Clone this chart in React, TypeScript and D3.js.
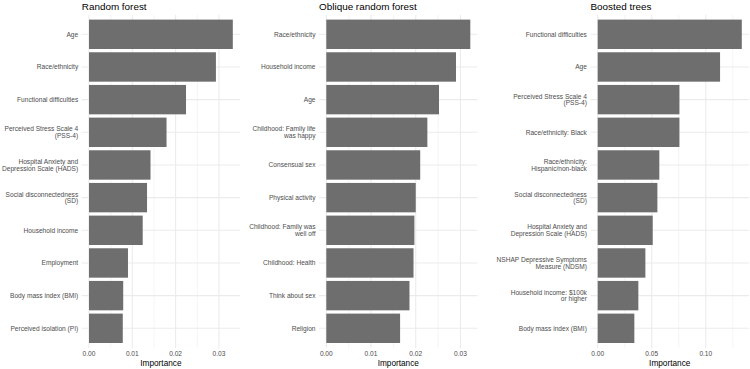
import { useEffect, useRef } from 'react';
import * as d3 from 'd3';

const rfLabels = [
  'Age',
  'Race/ethnicity',
  'Functional difficulties',
  'Perceived Stress Scale 4\n(PSS-4)',
  'Hospital Anxiety and\nDepression Scale (HADS)',
  'Social disconnectedness\n(SD)',
  'Household income',
  'Employment',
  'Body mass index (BMI)',
  'Perceived isolation (PI)',
];
const rfValues = [0.0332, 0.0293, 0.0224, 0.0179, 0.0142, 0.0134, 0.0124, 0.009, 0.0079, 0.0078];

const orfLabels = [
  'Race/ethnicity',
  'Household income',
  'Age',
  'Childhood: Family life\nwas happy',
  'Consensual sex',
  'Physical activity',
  'Childhood: Family was\nwell off',
  'Childhood: Health',
  'Think about sex',
  'Religion',
];
const orfValues = [0.0322, 0.029, 0.0252, 0.0226, 0.021, 0.02, 0.0197, 0.0195, 0.0186, 0.0165];

const btLabels = [
  'Functional difficulties',
  'Age',
  'Perceived Stress Scale 4\n(PSS-4)',
  'Race/ethnicity: Black',
  'Race/ethnicity:\nHispanic/non-black',
  'Social disconnectedness\n(SD)',
  'Hospital Anxiety and\nDepression Scale (HADS)',
  'NSHAP Depressive Symptoms\nMeasure (NDSM)',
  'Household income: $100k\nor higher',
  'Body mass index (BMI)',
];
const btValues = [0.1333, 0.1132, 0.0756, 0.0756, 0.057, 0.0552, 0.0509, 0.0441, 0.0376, 0.0339];

const rfTicks = [0, 0.01, 0.02, 0.03];
const orfTicks = [0, 0.01, 0.02, 0.03];
const btTicks = [0, 0.05, 0.1];

const titles = ['Random forest', 'Oblique random forest', 'Boosted trees'];

const WIDTH = 750;
const HEIGHT = 369;
const FONT = '"Liberation Sans", Arial, Helvetica, sans-serif';

export default function App() {
  const svgRef = useRef<SVGSVGElement>(null);

  useEffect(() => {
    if (!svgRef.current) return;
    const svg = d3.select(svgRef.current);
    svg.selectAll('*').remove();

    const panelTop = 14.7;
    const panelBottom = 347.9;

    const panels = [
      { title: titles[0], labels: rfLabels, values: rfValues, ticks: rfTicks, left: 81.8, right: 240 },
      { title: titles[1], labels: orfLabels, values: orfValues, ticks: orfTicks, left: 319.1, right: 477.5 },
      { title: titles[2], labels: btLabels, values: btValues, ticks: btTicks, left: 590.5, right: 749 },
    ];

    panels.forEach(p => {
      const g = svg.append('g');
      const maxV = d3.max(p.values) || 0;
      const pad = maxV * 0.05;
      const x = d3.scaleLinear().domain([-pad, maxV + pad]).range([p.left, p.right]);

      // discrete axis with ggplot's 0.6 expansion
      const n = p.labels.length;
      const y = d3.scaleLinear().domain([-0.6, n - 1 + 0.6]).range([panelTop, panelBottom]);
      const band = (panelBottom - panelTop) / (n + 0.2);
      const barH = band * 0.9;

      // minor vertical grid
      const step = p.ticks[1] - p.ticks[0];
      const minors = d3.range(p.ticks[0] - step / 2, maxV + pad + step, step)
        .filter(v => v > -pad && v < maxV + pad);
      g.selectAll('.minor')
        .data(minors)
        .enter()
        .append('line')
        .attr('x1', d => x(d))
        .attr('x2', d => x(d))
        .attr('y1', panelTop)
        .attr('y2', panelBottom)
        .attr('stroke', '#ebebeb')
        .attr('stroke-width', 0.55);

      // major vertical grid
      g.selectAll('.vmajor')
        .data(p.ticks)
        .enter()
        .append('line')
        .attr('x1', d => x(d))
        .attr('x2', d => x(d))
        .attr('y1', panelTop)
        .attr('y2', panelBottom)
        .attr('stroke', '#ebebeb')
        .attr('stroke-width', 1.07);

      // major horizontal grid
      g.selectAll('.hmajor')
        .data(p.labels)
        .enter()
        .append('line')
        .attr('x1', p.left)
        .attr('x2', p.right)
        .attr('y1', (_, i) => y(i))
        .attr('y2', (_, i) => y(i))
        .attr('stroke', '#ebebeb')
        .attr('stroke-width', 1.07);

      // bars
      g.selectAll('.bar')
        .data(p.values)
        .enter()
        .append('rect')
        .attr('x', x(0))
        .attr('y', (_, i) => y(i) - barH / 2)
        .attr('width', d => x(d) - x(0))
        .attr('height', barH)
        .attr('fill', '#6e6e6e');

      // y labels
      const lineH = 6.9;
      g.selectAll('.ylab')
        .data(p.labels)
        .enter()
        .append('text')
        .attr('x', p.left - 3.6)
        .attr('y', (_, i) => y(i))
        .attr('text-anchor', 'end')
        .attr('font-family', FONT)
        .attr('font-size', 6.6)
        .attr('fill', '#4d4d4d')
        .each(function (d) {
          const lines = d.split('\n');
          const t = d3.select(this);
          lines.forEach((ln, k) => {
            t.append('tspan')
              .attr('x', p.left - 3.6)
              .attr('dy', k === 0 ? (-(lines.length - 1) * lineH) / 2 + 2.35 : lineH)
              .text(ln);
          });
        });

      // x tick labels
      g.selectAll('.xlab')
        .data(p.ticks)
        .enter()
        .append('text')
        .attr('x', d => x(d))
        .attr('y', 356.2)
        .attr('text-anchor', 'middle')
        .attr('font-family', FONT)
        .attr('font-size', 6.6)
        .attr('fill', '#4d4d4d')
        .text(d => d3.format('.2f')(d));

      // axis title
      g.append('text')
        .attr('x', (p.left + p.right) / 2)
        .attr('y', 366)
        .attr('text-anchor', 'middle')
        .attr('font-family', FONT)
        .attr('font-size', 8.25)
        .attr('fill', '#000')
        .text('Importance');

      // panel title
      g.append('text')
        .attr('x', p.left)
        .attr('y', 9.6)
        .attr('font-family', FONT)
        .attr('font-size', 9.9)
        .attr('fill', '#000')
        .text(p.title);
    });
  }, []);

  return (
    <div style={{ position: 'fixed', left: 0, top: 0, width: WIDTH, height: HEIGHT, background: '#fff' }}>
      <svg ref={svgRef} width={WIDTH} height={HEIGHT} style={{ display: 'block' }}></svg>
    </div>
  );
}
